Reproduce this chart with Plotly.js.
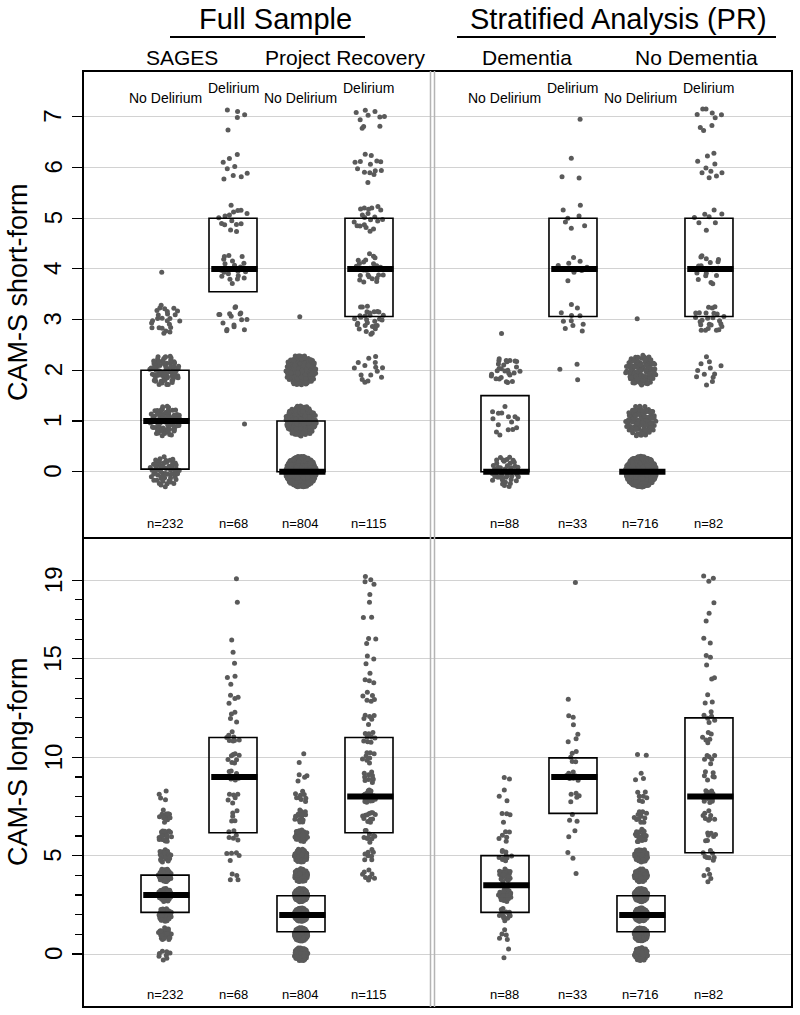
<!DOCTYPE html>
<html><head><meta charset="utf-8">
<script src="https://cdn.plot.ly/plotly-3.0.1.min.js"></script>
<style>body{margin:0;background:#fff}#chart{width:800px;height:1015px}</style>
</head><body><div id="chart"></div>
<script>
// ---------------- DATA ----------------
const groupNames = ['SAGES No Delirium','SAGES Delirium','PR No Delirium','PR Delirium',
  'Dementia No Delirium','Dementia Delirium','No Dementia No Delirium','No Dementia Delirium'];
const groupLabels = ['No Delirium','Delirium','No Delirium','Delirium','No Delirium','Delirium','No Delirium','Delirium'];
const groupN = [232, 68, 804, 115, 88, 33, 716, 82];
const headerLabels = ['Full Sample', 'Stratified Analysis (PR)'];
const subHeaderLabels = ['SAGES', 'Project Recovery', 'Dementia', 'No Dementia'];
const shortTitle = 'CAM-S short-form';
const longTitle = 'CAM-S long-form';

// CAM-S short-form: number of patients at score 0..7
const shortScores = [0,1,2,3,4,5,6,7];
const shortSagesNoDel = [58,78,70,25,1,0,0,0];
const shortSagesDel   = [0,1,0,16,22,15,9,5];
const shortPrNoDel    = [520,150,133,1,0,0,0,0];
const shortPrDel      = [0,0,15,30,26,20,14,10];
const shortDemNoDel   = [45,15,27,1,0,0,0,0];
const shortDemDel     = [0,0,3,11,8,7,3,1];
const shortNoDemNoDel = [530,90,95,1,0,0,0,0];
const shortNoDemDel   = [0,0,12,25,18,8,10,9];

// CAM-S long-form: number of patients at score 0..19
const longScores = [0,1,2,3,4,5,6,7,8,9,10,11,12,13,14,15,16,17,18,19];
const longSagesNoDel = [8,25,45,55,45,22,17,11,4,0,0,0,0,0,0,0,0,0,0,0];
const longSagesDel   = [0,0,0,0,4,5,6,5,6,10,8,8,4,4,3,2,1,0,1,1];
const longPrNoDel    = [80,170,200,160,85,55,25,14,9,4,2,0,0,0,0,0,0,0,0,0];
const longPrDel      = [0,0,0,0,8,8,10,12,20,10,8,9,6,6,4,3,3,2,2,4];
const longDemNoDel   = [2,5,12,25,19,10,6,4,3,2,0,0,0,0,0,0,0,0,0,0];
const longDemDel     = [0,0,0,0,1,2,2,3,5,7,5,3,3,1,0,0,0,0,0,1];
const longNoDemNoDel = [70,150,180,145,75,50,22,12,7,3,2,0,0,0,0,0,0,0,0,0];
const longNoDemDel   = [0,0,0,0,5,8,7,8,14,6,6,6,6,3,2,3,2,2,1,3];

// box summaries (lower quartile, median, upper quartile)
const shortQ1  = [0.05, 3.55, 0, 3.06, 0,   3.06, 0, 3.06];
const shortMed = [1,    4,    0, 4,    0,   4,    0, 4];
const shortQ3  = [2,    5,    1, 5,    1.5, 5,    0, 5];
const longQ1   = [2.12, 6.16, 1.13, 6.16, 2.12, 7.15, 1.13, 5.15];
const longMed  = [3,    9,    1.98, 8,    3.49, 9,    1.98, 8];
const longQ3   = [4.01, 11,   2.96, 11,   5,    9.97, 2.96, 12];

// axis ticks
const shortTicks = [0,1,2,3,4,5,6,7];
const longTickLabels = [0,5,10,15,19];
const longUnitTicks = [0,1,2,3,4,5,6,7,8,9,10,11,12,13,14,15,16,17,18,19];

const shortCounts = [shortSagesNoDel, shortSagesDel, shortPrNoDel, shortPrDel, shortDemNoDel, shortDemDel, shortNoDemNoDel, shortNoDemDel];
const longCounts  = [longSagesNoDel, longSagesDel, longPrNoDel, longPrDel, longDemNoDel, longDemDel, longNoDemNoDel, longNoDemDel];

// ---------------- LAYOUT CONSTANTS ----------------
const groupPos = [1,2,3,4,6,7,8,9];
const xRange = [-0.206, 10.221];
const yTopRange = [-1.308, 7.903];
const yBotRange = [-2.69, 21.14];
const L = 83, R = 792, T = 71, B = 1007, MID = 538;
const W = R - L, H = B - T;
const pxX = W / (xRange[1] - xRange[0]);
const pxYTop = (MID - T) / (yTopRange[1] - yTopRange[0]);
const pxYBot = (B - MID) / (yBotRange[1] - yBotRange[0]);
const fx = p => (p - L) / W;
const fy = p => (B - p) / H;
const FONT = 'Liberation Sans, Arial, sans-serif';
const DOT = '#5a5a5a';

// deterministic quasi-uniform scatter inside a disc (display jitter only)
function halton(i, b) { let f = 1, r = 0; while (i > 0) { f /= b; r += f * (i % b); i = Math.floor(i / b); } return r; }
let hIdx = 1;
function expand(countsList, scores, radiusPx, pxY) {
  const xs = [], ys = [];
  countsList.forEach((counts, g) => {
    counts.forEach((c, k) => {
      for (let j = 0; j < c; j++) {
        const r = radiusPx * Math.sqrt(halton(hIdx, 2));
        const th = 2 * Math.PI * halton(hIdx, 3);
        hIdx += 1;
        xs.push(groupPos[g] + r * Math.cos(th) / pxX);
        ys.push(scores[k] + r * Math.sin(th) / pxY);
      }
    });
  });
  return {xs, ys};
}
const ptsTop = expand(shortCounts, shortScores, 15.5, pxYTop);
hIdx = 7;
const ptsBot = expand(longCounts, longScores, 6.8, pxYBot);

function medianTrace(med, xa, ya) {
  const x = [], y = [];
  med.forEach((m, g) => { x.push(groupPos[g] - 0.32, groupPos[g] + 0.36, null); y.push(m, m, null); });
  return {type: 'scatter', mode: 'lines', x, y, xaxis: xa, yaxis: ya, hoverinfo: 'skip',
    line: {color: '#000', width: 6}, showlegend: false};
}

const traces = [
  {type: 'scatter', mode: 'markers', x: ptsTop.xs, y: ptsTop.ys, xaxis: 'x', yaxis: 'y',
   marker: {size: 5, color: DOT}, showlegend: false, hoverinfo: 'y'},
  {type: 'scatter', mode: 'markers', x: ptsBot.xs, y: ptsBot.ys, xaxis: 'x2', yaxis: 'y2',
   marker: {size: 5, color: DOT}, showlegend: false, hoverinfo: 'y'},
  medianTrace(shortMed, 'x', 'y'),
  medianTrace(longMed, 'x2', 'y2')
];

const shapes = [];
function boxes(q1, q3, xr, yr) {
  q1.forEach((v, g) => {
    if (q3[g] - v > 0.001) shapes.push({type: 'rect', xref: xr, yref: yr, x0: groupPos[g] - 0.353, x1: groupPos[g] + 0.353,
      y0: v, y1: q3[g], line: {color: '#000', width: 1.6}, fillcolor: 'rgba(0,0,0,0)', layer: 'above'});
  });
}
boxes(shortQ1, shortQ3, 'x', 'y');
boxes(longQ1, longQ3, 'x2', 'y2');
// frame, panel divider, double separator
shapes.push({type: 'rect', xref: 'paper', yref: 'paper', x0: 0, x1: 1, y0: 0, y1: 1, line: {color: '#000', width: 2}, layer: 'above'});
shapes.push({type: 'line', xref: 'paper', yref: 'paper', x0: 0, x1: 1, y0: fy(MID), y1: fy(MID), line: {color: '#000', width: 2}, layer: 'above'});
shapes.push({type: 'line', xref: 'paper', yref: 'paper', x0: fx(430.5), x1: fx(430.5), y0: 0, y1: 1, line: {color: '#b4b4b4', width: 1.5}, layer: 'above'});
shapes.push({type: 'line', xref: 'paper', yref: 'paper', x0: fx(434.5), x1: fx(434.5), y0: 0, y1: 1, line: {color: '#b4b4b4', width: 1.5}, layer: 'above'});
// header underlines
shapes.push({type: 'line', xref: 'paper', yref: 'paper', x0: fx(170), x1: fx(365), y0: fy(37), y1: fy(37), line: {color: '#000', width: 2}});
shapes.push({type: 'line', xref: 'paper', yref: 'paper', x0: fx(457), x1: fx(776), y0: fy(37), y1: fy(37), line: {color: '#000', width: 2}});

const ann = [];
function txt(text, x, y, size, extra) {
  ann.push(Object.assign({text, x: fx(x), y: fy(y), xref: 'paper', yref: 'paper', showarrow: false,
    xanchor: 'center', yanchor: 'middle', font: {family: FONT, size, color: '#000'}}, extra || {}));
}
txt(headerLabels[0], 275, 19, 29);
txt(headerLabels[1], 618, 19, 29);
const subX = [182, 345, 527, 696];
subHeaderLabels.forEach((s, i) => txt(s, subX[i], 57, 21));
groupLabels.forEach((s, g) => {
  const px = L + (groupPos[g] - xRange[0]) * pxX;
  txt(s, px, s === 'Delirium' ? 88 : 98, 14);
  txt('n=' + groupN[g], px, 523, 13);
  txt('n=' + groupN[g], px, 994, 13);
});
txt(shortTitle, 18, 292, 27, {textangle: -90});
txt(longTitle, 18, 762, 27, {textangle: -90});
// rotated tick labels, placed from the tick arrays on each y axis
function tickLabels(vals, yref) {
  vals.forEach(v => ann.push({text: String(v), x: fx(53), y: v, xref: 'paper', yref, showarrow: false,
    xanchor: 'center', yanchor: 'middle', textangle: -90, font: {family: FONT, size: 24, color: '#000'}}));
}
tickLabels(shortTicks, 'y');
tickLabels(longTickLabels, 'y2');

const layout = {
  width: 800, height: 1015,
  margin: {l: L, r: 800 - R, t: T, b: 1015 - B, pad: 0},
  paper_bgcolor: '#fff', plot_bgcolor: '#fff',
  showlegend: false,
  xaxis: {domain: [0, 1], range: xRange, anchor: 'y', showgrid: false, zeroline: false, showticklabels: false, ticks: ''},
  xaxis2: {domain: [0, 1], range: xRange, anchor: 'y2', showgrid: false, zeroline: false, showticklabels: false, ticks: ''},
  yaxis: {domain: [fy(MID), 1], range: yTopRange, anchor: 'x', tickmode: 'array', tickvals: shortTicks, showticklabels: false,
    ticks: 'outside', ticklen: 10, tickwidth: 1.2, tickcolor: '#000',
    showgrid: true, gridcolor: '#d2d2d2', gridwidth: 1, zeroline: false, showline: false},
  yaxis2: {domain: [0, fy(MID)], range: yBotRange, anchor: 'x2', tickmode: 'array', tickvals: longTickLabels, showticklabels: false,
    ticks: 'outside', ticklen: 10, tickwidth: 1.2, tickcolor: '#000',
    showgrid: true, gridcolor: '#d2d2d2', gridwidth: 1, zeroline: false, showline: false,
    minor: {tickmode: 'array', tickvals: longUnitTicks.filter(v => longTickLabels.indexOf(v) < 0), ticks: 'outside', ticklen: 7, tickwidth: 1.2, tickcolor: '#000', showgrid: false}},
  shapes, annotations: ann
};
Plotly.newPlot('chart', traces, layout, {staticPlot: true, displayModeBar: false});
</script></body></html>
